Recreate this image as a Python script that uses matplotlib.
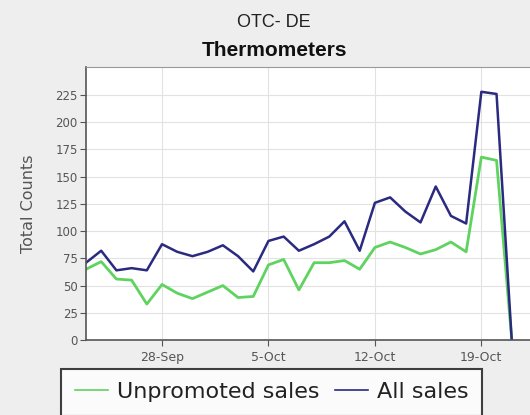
import matplotlib
matplotlib.use('Agg')
import matplotlib.pyplot as plt
import matplotlib.dates as mdates
import pandas as pd

# daily counts, 23-Sep to 21-Oct
dates = pd.date_range('2009-09-23', '2009-10-21', freq='D')
all_sales = [71, 82, 64, 66, 64, 88, 81, 77, 81, 87, 77, 63, 91, 95, 82,
             88, 95, 109, 82, 126, 131, 118, 108, 141, 114, 107, 228, 226, 0]
unpromoted = [65, 72, 56, 55, 33, 51, 43, 38, 44, 50, 39, 40, 69, 74, 46,
              71, 71, 73, 65, 85, 90, 85, 79, 83, 90, 81, 168, 165, 0]
tick_dates = ['2009-09-28', '2009-10-05', '2009-10-12', '2009-10-19']
y_ticks = [0, 25, 50, 75, 100, 125, 150, 175, 200, 225]

fig = plt.figure(figsize=(5.3, 4.15), dpi=100)
fig.patch.set_facecolor('#eeeeee')
ax = fig.add_axes([86 / 530, 75 / 415, 444 / 530, 272.7 / 415])
ax.set_facecolor('white')

ax.plot(dates, unpromoted, color='#5fd35f', linewidth=2, label='Unpromoted sales')
ax.plot(dates, all_sales, color='#2a2a80', linewidth=1.8, label='All sales')

ax.set_xlim(dates[0], dates[0] + pd.Timedelta(days=29.2))
ax.set_ylim(0, 250.5)
ax.set_yticks(y_ticks)
ax.set_xticks(pd.to_datetime(tick_dates))
ax.xaxis.set_major_formatter(mdates.DateFormatter('%-d-%b'))

ax.grid(True, color='#e2e2e2', linewidth=0.8)
ax.set_axisbelow(True)
for side in ['left', 'bottom']:
    ax.spines[side].set_color('#555555')
    ax.spines[side].set_linewidth(1.2)
ax.spines['top'].set_color('#999999')
ax.spines['right'].set_visible(False)
ax.tick_params(colors='#555555', length=4, width=0.8, labelsize=8.5, pad=2)
ax.tick_params(axis='x', labelsize=9, pad=4)

ax.set_ylabel('Total Counts', fontsize=11.5, color='#555555', labelpad=14)

fig.text(0.517, 0.946, 'OTC- DE', ha='center', va='center',
         fontsize=13, family='Liberation Sans', color='#222222')
fig.text(0.517, 0.878, 'Thermometers', ha='center', va='center',
         fontsize=15, family='Liberation Sans', fontweight='bold', color='#111111')

leg = fig.legend(loc='upper center', bbox_to_anchor=(0.513, 0.111),
                 ncol=2, frameon=True, fancybox=False, fontsize=16,
                 handlelength=1.5, handletextpad=0.4, columnspacing=0.7,
                 borderpad=0.6, borderaxespad=0)
leg.get_frame().set_edgecolor('#111111')
leg.get_frame().set_linewidth(1.5)
leg.get_frame().set_facecolor('white')
for text in leg.get_texts():
    text.set_color('#222222')
for line in leg.get_lines():
    line.set_linewidth(1.2)

fig.savefig('out.png', dpi=100, facecolor=fig.get_facecolor())
